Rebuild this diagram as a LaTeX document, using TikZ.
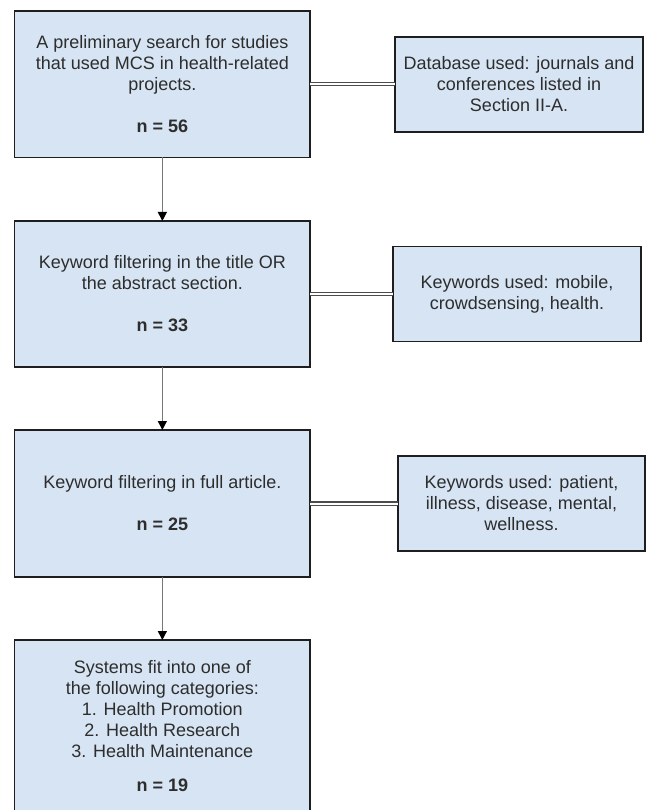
\documentclass[tikz,border=0pt]{standalone}
\usepackage{fontspec}
\setmainfont{Liberation Sans}
\usetikzlibrary{arrows.meta}
\definecolor{boxfill}{RGB}{214,228,243}
\definecolor{boxline}{RGB}{30,30,30}
\definecolor{txt}{RGB}{45,45,45}
\definecolor{conn}{RGB}{120,120,120}
\begin{document}
\begin{tikzpicture}[x=1pt,y=-1pt,
  stepbox/.style={draw=boxline, fill=boxfill, line width=1.4pt, inner sep=0pt, outer sep=0pt,
    align=center, text=txt, font=\fontsize{18}{21}\selectfont, minimum width=295.3pt},
  sidebox/.style={draw=boxline, fill=boxfill, line width=1.2pt, inner sep=0pt, outer sep=0pt,
    align=center, text=txt, font=\fontsize{18}{21}\selectfont, minimum width=248pt, minimum height=95pt},
  flow/.style={draw=conn, line width=1.3pt, -{Triangle[length=9pt,width=9pt,color=black]}},
  link/.style={draw=black!70, line width=1.1pt, double=white, double distance=2pt}
]
\clip (0,0) rectangle (649,810);
\fill[white] (0,0) rectangle (649,810);

\node[stepbox, minimum height=146.5pt] (b1) at (162.35,84.25)
  {A preliminary search for studies\\that used MCS in health-related\\projects.\\[21pt]\textbf{n = 56}};
\node[stepbox, minimum height=146pt] (b2) at (162.35,294)
  {Keyword filtering in the title OR\\the abstract section.\\[21pt]\textbf{n = 33}};
\node[stepbox, minimum height=147pt] (b3) at (162.35,503.5)
  {Keyword filtering in full article.\\[21pt]\textbf{n = 25}};
\node[stepbox, minimum height=172pt] (b4) at (162.35,726)
  {Systems fit into one of\\the following categories:\\1. Health Promotion\\2. Health Research\\3. Health Maintenance\\[13pt]\textbf{n = 19}};

\node[sidebox] (s1) at (519,84.5)
  {Database used: journals and\\conferences listed in\\Section II-A.};
\node[sidebox, minimum height=94.5pt] (s2) at (517,294)
  {Keywords used: mobile,\\crowdsensing, health.};
\node[sidebox, minimum width=247pt] (s3) at (521.5,503.5)
  {Keywords used: patient,\\illness, disease, mental,\\wellness.};

\draw[flow] (b1.south) -- (b2.north);
\draw[flow] (b2.south) -- (b3.north);
\draw[flow] (b3.south) -- (b4.north);

\draw[link] (b1.east) -- (b1.east -| s1.west);
\draw[link] (b2.east) -- (b2.east -| s2.west);
\draw[link] (b3.east) -- (b3.east -| s3.west);
\end{tikzpicture}
\end{document}
